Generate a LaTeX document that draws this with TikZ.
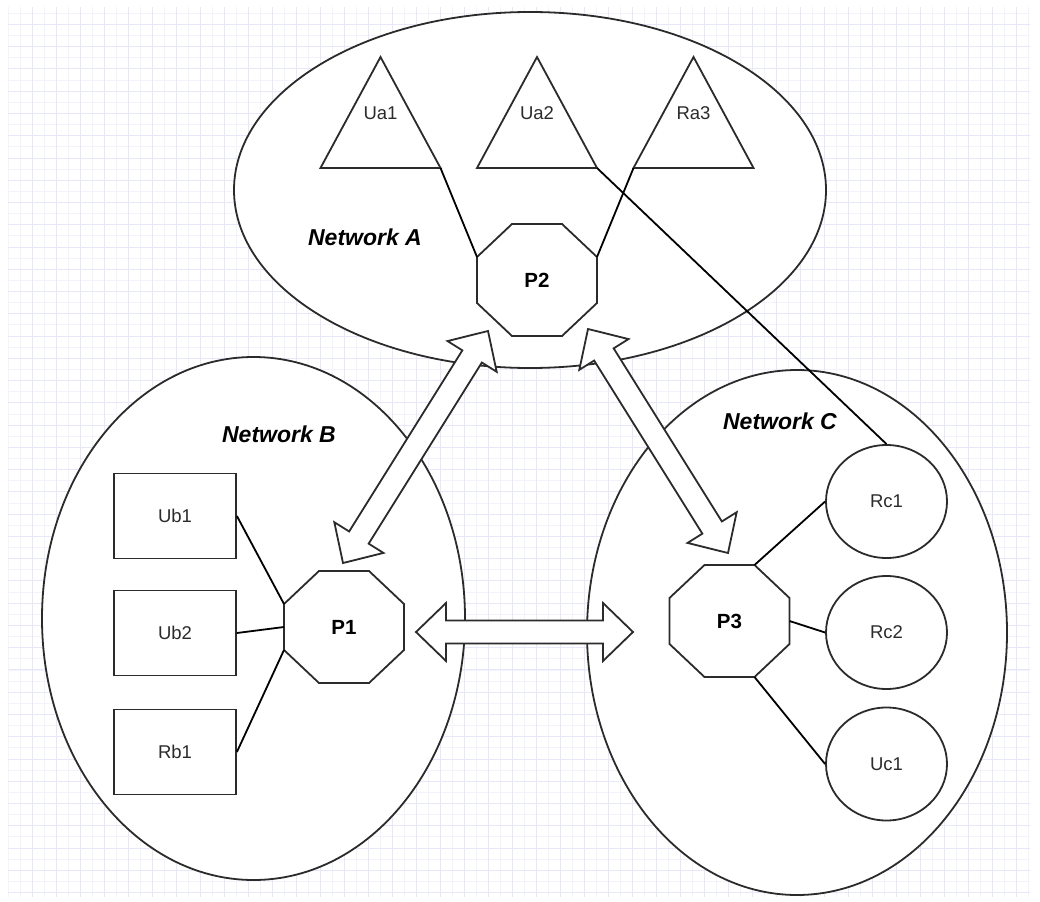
\documentclass[tikz,border=0pt]{standalone}
\usepackage{fontspec}
\setmainfont{Liberation Sans}
\usetikzlibrary{shapes.geometric,calc}

\definecolor{gridminor}{HTML}{F3F3FD}
\definecolor{gridmajor}{HTML}{E7E7FA}
\definecolor{ink}{HTML}{2B2B2B}

% double-headed block arrow between two tip points
\newcommand\dblblockarrow[2]{%
  \draw[blockarrow] (#1)
    -- ($(#1)!30pt!(#2)!29pt!90:(#2)$)
    -- ($(#1)!30pt!(#2)!11.5pt!90:(#2)$)
    -- ($(#2)!30pt!(#1)!11.5pt!-90:(#1)$)
    -- ($(#2)!30pt!(#1)!29pt!-90:(#1)$)
    -- (#2)
    -- ($(#2)!30pt!(#1)!29pt!90:(#1)$)
    -- ($(#2)!30pt!(#1)!11.5pt!90:(#1)$)
    -- ($(#1)!30pt!(#2)!11.5pt!-90:(#2)$)
    -- ($(#1)!30pt!(#2)!29pt!-90:(#2)$)
    -- cycle;}

\begin{document}
\begin{tikzpicture}[x=1pt,y=-1pt,
  outline/.style={draw=ink, line width=1.8pt},
  net/.style={outline, ellipse, fill=white, inner sep=0pt},
  hostfont/.style={font=\fontsize{18.5}{20}\selectfont, text=ink},
  hostbox/.style={outline, rectangle, fill=white, minimum width=122pt,
    minimum height=85pt, inner sep=0pt, hostfont},
  hostround/.style={outline, ellipse, fill=white, minimum width=121pt,
    minimum height=113pt, inner sep=0pt, hostfont},
  link/.style={draw=black, line width=1.8pt},
  netlabel/.style={font=\fontsize{23}{26}\selectfont\bfseries\itshape, text=black},
  blockarrow/.style={outline, fill=white, line join=miter},
  octagon/.pic={
    \draw[outline, fill=white, line join=miter]
      (-25,-56) -- (25,-56) -- (60,-23) -- (60,23) -- (25,56) -- (-25,56)
      -- (-60,23) -- (-60,-23) -- cycle;
    \coordinate (-tl) at (-25,-56); \coordinate (-tr) at (25,-56);
    \coordinate (-rt) at (60,-23);  \coordinate (-rb) at (60,23);
    \coordinate (-br) at (25,56);   \coordinate (-bl) at (-25,56);
    \coordinate (-lb) at (-60,23);  \coordinate (-lt) at (-60,-23);
    \coordinate (-e) at (60,0);     \coordinate (-w) at (-60,0);
    \node[font=\fontsize{20.5}{22}\selectfont\bfseries, text=black] (-label) at (0,0) {#1};
  },
  triangle/.pic={
    \draw[outline, fill=white, line join=miter]
      (0,-55.5) -- (60,55.5) -- (-60,55.5) -- cycle;
    \coordinate (-apex) at (0,-55.5);
    \coordinate (-br) at (60,55.5);
    \coordinate (-bl) at (-60,55.5);
    \node[hostfont] (-label) at (0,0.5) {#1};
  }
]
\useasboundingbox (0,0) rectangle (1040,901);
\fill[white] (0,0) rectangle (1040,901);

% background grid
\foreach \i in {0,...,85}
  \draw[gridminor, line width=0.9pt] ({8+12*\i},7) -- ({8+12*\i},897);
\foreach \k in {0,...,79}
  \draw[gridminor, line width=0.9pt] (8,{13.3+11.13*\k}) -- (1030,{13.3+11.13*\k});
\foreach \i in {0,...,42}
  \draw[gridmajor, line width=0.9pt] ({32+24*\i},7) -- ({32+24*\i},897);
\foreach \k in {0,...,39}
  \draw[gridmajor, line width=0.9pt] (8,{24.4+22.26*\k}) -- (1030,{24.4+22.26*\k});

% the three networks
\node[net, minimum width=592pt, minimum height=356pt] (netA) at (530,190) {};
\node[net, minimum width=423pt, minimum height=523pt] (netB) at (253.5,618.5) {};
\node[net, minimum width=420pt, minimum height=525pt] (netC) at (797,632.5) {};

\node[netlabel] (labA) at (365,237) {Network A};
\node[netlabel] (labB) at (279,434) {Network B};
\node[netlabel] (labC) at (780,421) {Network C};

% network A
\pic (Ua1) at (380.5,112.5) {triangle=Ua1};
\pic (Ua2) at (537,112.5) {triangle=Ua2};
\pic (Ra3) at (693.5,112.5) {triangle=Ra3};
\pic (P2) at (537,280) {octagon=P2};

% network B
\node[hostbox] (Ub1) at (175,516) {Ub1};
\node[hostbox] (Ub2) at (175,633) {Ub2};
\node[hostbox] (Rb1) at (175,752) {Rb1};
\pic (P1) at (344,627) {octagon=P1};

% network C
\node[hostround] (Rc1) at (886.5,501.5) {Rc1};
\node[hostround] (Rc2) at (886.5,632.5) {Rc2};
\node[hostround] (Uc1) at (886.5,764) {Uc1};
\pic (P3) at (729.5,621) {octagon=P3};

% links
\draw[link] (Ua1-br) -- (P2-lt);
\draw[link] (Ra3-bl) -- (P2-rt);
\draw[link] (Ua2-br) -- (Rc1.north);
\draw[link] (Ub1.east) -- (P1-lt);
\draw[link] (Ub2.east) -- (P1-w);
\draw[link] (Rb1.east) -- (P1-lb);
\draw[link] (P3-tr) -- (Rc1.west);
\draw[link] (P3-e) -- (Rc2.west);
\draw[link] (P3-br) -- (Uc1.west);

% block arrows between the gateways
\coordinate (ab2) at (488,331);
\coordinate (ab1) at (343,563);
\coordinate (ac2) at (588,329);
\coordinate (ac3) at (728,553);
\coordinate (bc1) at (416,632);
\coordinate (bc3) at (633,632);
\dblblockarrow{ab2}{ab1}
\dblblockarrow{ac2}{ac3}
\dblblockarrow{bc1}{bc3}
\end{tikzpicture}
\end{document}
